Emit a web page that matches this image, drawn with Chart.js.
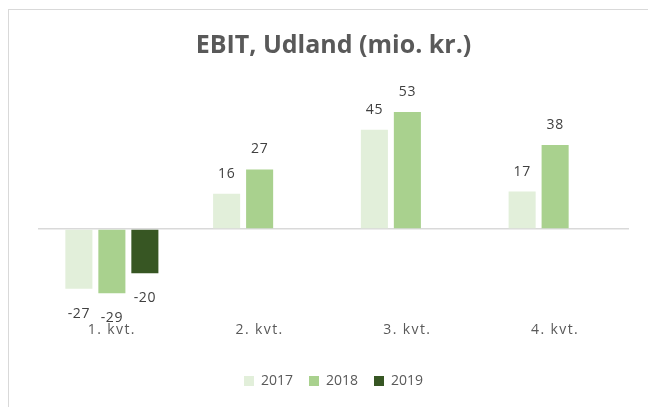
<!DOCTYPE html>
<html lang="da">
<head>
<meta charset="UTF-8">
<title>EBIT, Udland</title>
<script src="https://cdn.jsdelivr.net/npm/chart.js"></script>
<style>
  html, body { margin: 0; padding: 0; background: #fff; overflow: hidden; }
  .frame { position: absolute; left: 8px; top: 9px; width: 680px; height: 440px; border: 1px solid #d9d9d9; }
  .wrap { position: absolute; left: 0; top: 0; width: 648px; height: 407px; }
</style>
</head>
<body>
<div class="frame"></div>
<div class="wrap"><canvas id="chart" width="648" height="407"></canvas></div>
<script>
  // data
  const quarters = ['1. kvt.', '2. kvt.', '3. kvt.', '4. kvt.'];
  const ebit2017 = [-27, 16, 45, 17];
  const ebit2018 = [-29, 27, 53, 38];
  const ebit2019 = [-20, null, null, null];

  const FONT = "'Open Sans'";

  // value labels above / below each bar
  const barLabels = {
    id: 'barLabels',
    afterDatasetsDraw(chart) {
      const ctx = chart.ctx;
      ctx.save();
      ctx.font = '14px ' + FONT;
      ctx.letterSpacing = '0.6px';
      ctx.fillStyle = '#404040';
      ctx.textAlign = 'center';
      ctx.textBaseline = 'middle';
      chart.data.datasets.forEach((ds, i) => {
        chart.getDatasetMeta(i).data.forEach((bar, j) => {
          const v = ds.data[j];
          if (v == null) return;
          const y = v >= 0 ? bar.y - 20 : bar.y + 25;
          ctx.fillText(String(v), bar.x, y);
        });
      });
      ctx.restore();
    }
  };

  // the category labels are spaced out a little in the original
  function spacedLabels(scale) {
    scale.height = 40.5;
    if (scale._spaced) return;
    const draw = scale.drawLabels.bind(scale);
    scale.drawLabels = area => {
      scale.ctx.letterSpacing = '1.4px';
      draw(area);
      scale.ctx.letterSpacing = '0px';
    };
    scale._spaced = true;
  }

  new Chart(document.getElementById('chart'), {
    type: 'bar',
    data: {
      labels: quarters,
      datasets: [
        { label: '2017', data: ebit2017, backgroundColor: '#e2efda' },
        { label: '2018', data: ebit2018, backgroundColor: '#a9d18e' },
        { label: '2019', data: ebit2019, backgroundColor: '#375623' }
      ]
    },
    options: {
      responsive: false,
      animation: false,
      categoryPercentage: 0.67,
      barPercentage: 0.82,
      layout: { padding: { top: 31, left: 38, right: 19, bottom: 9 } },
      plugins: {
        title: {
          display: true,
          text: 'EBIT, Udland (mio. kr.)',
          color: '#595959',
          font: { family: FONT, size: 25, weight: 'bold', lineHeight: 1.2 },
          padding: { top: 0, bottom: 35.5 }
        },
        legend: {
          position: 'bottom',
          labels: {
            color: '#595959',
            font: { family: FONT, size: 14 },
            boxWidth: 10,
            boxHeight: 10,
            padding: 16
          }
        },
        tooltip: { enabled: false }
      },
      scales: {
        x: {
          grid: { display: false, drawTicks: false },
          border: { display: false },
          ticks: { color: '#595959', font: { family: FONT, size: 14 }, padding: 4 },
          afterFit: spacedLabels
        },
        y: {
          min: -40,
          max: 60,
          ticks: { display: false, stepSize: 10 },
          border: { display: false },
          grid: {
            drawTicks: false,
            lineWidth: 1.5,
            color: c => c.tick.value === 0 ? '#d9d9d9' : 'transparent'
          },
          afterFit: s => { s.width = 0; }
        }
      }
    },
    plugins: [barLabels]
  });
</script>
</body>
</html>
